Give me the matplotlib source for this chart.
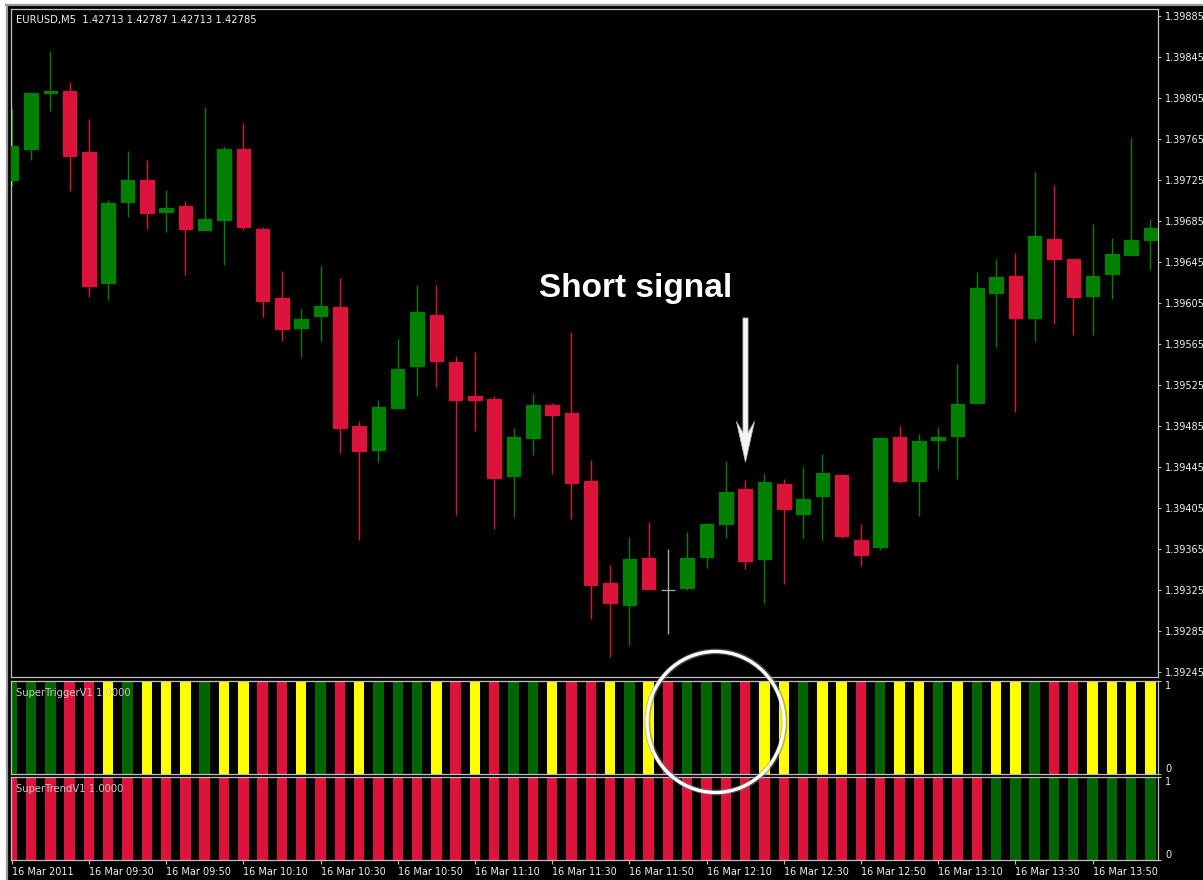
import matplotlib
matplotlib.use('Agg')
import matplotlib.pyplot as plt
from matplotlib.patches import Ellipse, Polygon, Rectangle
from matplotlib.lines import Line2D

# ---------------- data (EURUSD M5, 16 Mar 2011, 09:10 .. 14:05) ----------------
opens = [1.39725, 1.39755, 1.39810, 1.39812, 1.39752, 1.39624, 1.39703, 1.39725, 1.39694, 1.39700,
         1.39676, 1.39686, 1.39755, 1.39677, 1.39610, 1.39580, 1.39592, 1.39601, 1.39485, 1.39461,
         1.39502, 1.39543, 1.39593, 1.39547, 1.39514, 1.39511, 1.39436, 1.39473, 1.39505, 1.39497,
         1.39431, 1.39332, 1.39310, 1.39356, 1.39325, 1.39327, 1.39357, 1.39389, 1.39423, 1.39355,
         1.39428, 1.39399, 1.39416, 1.39437, 1.39374, 1.39367, 1.39474, 1.39431, 1.39471, 1.39475,
         1.39507, 1.39615, 1.39631, 1.39590, 1.39667, 1.39648, 1.39612, 1.39633, 1.39652, 1.39666]
highs = [1.39795, 1.39810, 1.39851, 1.39821, 1.39784, 1.39705, 1.39753, 1.39744, 1.39715, 1.39704,
         1.39796, 1.39758, 1.39781, 1.39679, 1.39636, 1.39599, 1.39641, 1.39629, 1.39490, 1.39510,
         1.39570, 1.39622, 1.39622, 1.39553, 1.39557, 1.39514, 1.39483, 1.39516, 1.39507, 1.39577,
         1.39452, 1.39349, 1.39376, 1.39391, 1.39365, 1.39381, 1.39390, 1.39451, 1.39432, 1.39438,
         1.39433, 1.39445, 1.39457, 1.39438, 1.39389, 1.39474, 1.39485, 1.39477, 1.39484, 1.39545,
         1.39635, 1.39648, 1.39654, 1.39733, 1.39720, 1.39648, 1.39682, 1.39668, 1.39766, 1.39687]
lows = [1.39719, 1.39744, 1.39792, 1.39714, 1.39611, 1.39608, 1.39689, 1.39677, 1.39674, 1.39632,
        1.39676, 1.39642, 1.39676, 1.39591, 1.39568, 1.39552, 1.39568, 1.39458, 1.39374, 1.39450,
        1.39502, 1.39514, 1.39523, 1.39398, 1.39480, 1.39384, 1.39396, 1.39456, 1.39438, 1.39394,
        1.39296, 1.39259, 1.39271, 1.39326, 1.39282, 1.39325, 1.39346, 1.39375, 1.39345, 1.39312,
        1.39331, 1.39375, 1.39374, 1.39375, 1.39348, 1.39364, 1.39429, 1.39397, 1.39443, 1.39433,
        1.39507, 1.39562, 1.39498, 1.39568, 1.39584, 1.39574, 1.39574, 1.39609, 1.39652, 1.39637]
closes = [1.39758, 1.39810, 1.39812, 1.39748, 1.39621, 1.39702, 1.39725, 1.39693, 1.39698, 1.39677,
          1.39687, 1.39755, 1.39679, 1.39607, 1.39579, 1.39589, 1.39602, 1.39483, 1.39460, 1.39503,
          1.39540, 1.39596, 1.39548, 1.39510, 1.39510, 1.39434, 1.39474, 1.39505, 1.39496, 1.39429,
          1.39330, 1.39312, 1.39355, 1.39326, 1.39325, 1.39356, 1.39389, 1.39420, 1.39353, 1.39430,
          1.39404, 1.39414, 1.39439, 1.39377, 1.39359, 1.39473, 1.39431, 1.39470, 1.39474, 1.39506,
          1.39619, 1.39630, 1.39590, 1.39670, 1.39648, 1.39611, 1.39631, 1.39653, 1.39666, 1.39678]

# SuperTriggerV1 state per bar: G = up, R = down, Y = neutral
trigger_states = list("GGGRRYGYYYGYYRRYGRYG"
                      "GGYRYRGGYRRYGYRGGGRY"
                      "YGYYRGYYGYGYYGRRYYYY")
# SuperTrendV1 state per bar
trend_states = list("R" * 51 + "G" * 9)

price_ticks = [1.39245, 1.39285, 1.39325, 1.39365, 1.39405, 1.39445, 1.39485, 1.39525,
               1.39565, 1.39605, 1.39645, 1.39685, 1.39725, 1.39765, 1.39805, 1.39845, 1.39885]
time_tick_bars = [0, 4, 8, 12, 16, 20, 24, 28, 32, 36, 40, 44, 48, 52, 56]
time_labels = ["16 Mar 2011", "16 Mar 09:30", "16 Mar 09:50", "16 Mar 10:10", "16 Mar 10:30",
               "16 Mar 10:50", "16 Mar 11:10", "16 Mar 11:30", "16 Mar 11:50", "16 Mar 12:10",
               "16 Mar 12:30", "16 Mar 12:50", "16 Mar 13:10", "16 Mar 13:30", "16 Mar 13:50"]

# ---------------- styling ----------------
UP = '#008000'
DOWN = '#DC143C'
DOJI = '#a8a8a8'
IND_COL = {'G': '#006400', 'R': '#DC143C', 'Y': '#FFFF00'}
SPINE = '#c0c0c0'
TXT = '#f0f0f0'

W, H = 1203, 880
fig = plt.figure(figsize=(W / 100, H / 100), dpi=100, facecolor='black')


def fx(px):
    return px / W


def fy(py):
    return 1 - py / H


left, right = 11, 1158
ax = fig.add_axes([fx(left), fy(677), fx(right - left), (677 - 9) / H])
ax_trig = fig.add_axes([fx(left), fy(773.5), fx(right - left), (773.5 - 680.5) / H])
ax_trend = fig.add_axes([fx(left), fy(859.5), fx(right - left), (859.5 - 777) / H])

xlim = (-0.036, 59.39)
n = len(opens)
xs = list(range(n))

# candles
body_w = 0.70
for i in xs:
    o, h, l, c = opens[i], highs[i], lows[i], closes[i]
    if c > o:
        col = UP
    elif c < o:
        col = DOWN
    else:
        col = DOJI
    ax.vlines(i, l, h, color=col, lw=1.0, zorder=2)
    bottom = min(o, c)
    height = abs(c - o)
    ax.bar(i, height, width=body_w, bottom=bottom, color=col, edgecolor=col,
           linewidth=0.9, zorder=3)

for a in (ax, ax_trig, ax_trend):
    a.set_facecolor('black')
    a.set_xlim(*xlim)
    for s in a.spines.values():
        s.set_color(SPINE)
        s.set_linewidth(0.9)
    a.yaxis.tick_right()
    a.tick_params(axis='y', colors=SPINE, labelcolor=TXT, length=2.5, width=0.8,
                  direction='out', labelsize=7, pad=2.5)
    a.tick_params(axis='x', bottom=False, labelbottom=False)

ax.set_ylim(1.392398, 1.398918)
ax.set_yticks(price_ticks)
ax.set_yticklabels([f"{p:.5f}" for p in price_ticks])

# indicator panels
ind_w = 0.54
ax_trig.bar(xs, [1] * n, width=ind_w, bottom=0,
            color=[IND_COL[s] for s in trigger_states], linewidth=0)
ax_trend.bar(xs, [1] * n, width=ind_w, bottom=0,
             color=[IND_COL[s] for s in trend_states], linewidth=0)
for a in (ax_trig, ax_trend):
    a.set_ylim(0, 1)
    a.set_yticks([0, 1])
    labs = a.set_yticklabels(["0", "1"])
    labs[0].set_va('bottom')
    labs[1].set_va('top')

ax_trend.set_xticks(time_tick_bars)
ax_trend.set_xticklabels(time_labels)
ax_trend.tick_params(axis='x', bottom=True, labelbottom=True, colors=SPINE,
                     labelcolor=TXT, length=3, width=0.8, direction='out',
                     labelsize=7, pad=2.5)
for lbl in ax_trend.get_xticklabels():
    lbl.set_ha('left')

# texts
fig.text(fx(16), fy(19.5), "EURUSD,M5  1.42713 1.42787 1.42713 1.42785",
         color=TXT, fontsize=7.2, va='center', ha='left')
fig.text(fx(16), fy(693), "SuperTriggerV1 1.0000", color='#c8c8c8', fontsize=7.2,
         va='center', ha='left', zorder=6)
fig.text(fx(16), fy(789), "SuperTrendV1 1.0000", color='#c8c8c8', fontsize=7.2,
         va='center', ha='left', zorder=6)
fig.text(fx(636), fy(297), "Short signal", color='white', fontsize=24,
         fontweight='bold', family=['Liberation Sans', 'DejaVu Sans'],
         ha='center', va='baseline', zorder=6)

# arrow (white, pointing down)
arrow_px = [(743, 318), (748, 318), (748, 433), (754.5, 421.5), (745.5, 462),
            (736.5, 421.5), (743, 433)]
fig.add_artist(Polygon([(fx(x), fy(y)) for x, y in arrow_px], closed=True,
                       facecolor='#f4f4f4', edgecolor='#bdbdbd', linewidth=0.6,
                       transform=fig.transFigure, zorder=6))

# circle highlight
fig.add_artist(Ellipse((fx(716), fy(722)), fx(137), 141 / H, fill=False,
                       edgecolor='#7a7a7a', linewidth=4.2, alpha=0.55,
                       transform=fig.transFigure, zorder=6))
fig.add_artist(Ellipse((fx(715.5), fy(722)), fx(137), 141 / H, fill=False,
                       edgecolor='white', linewidth=2.4,
                       transform=fig.transFigure, zorder=7))

# window frame (white margin + gray border at top/left)
fig.add_artist(Rectangle((0, fy(4.5)), 1, 4.5 / H, facecolor='white', edgecolor='none',
                         transform=fig.transFigure, zorder=8))
fig.add_artist(Rectangle((0, 0), fx(5.5), 1, facecolor='white', edgecolor='none',
                         transform=fig.transFigure, zorder=8))
fig.add_artist(Line2D([fx(5.5), 1], [fy(5.5), fy(5.5)], color='#9a9a9a', lw=1.6,
                      transform=fig.transFigure, zorder=8))
fig.add_artist(Line2D([fx(6.5), fx(6.5)], [0, fy(5.5)], color='#9a9a9a', lw=1.6,
                      transform=fig.transFigure, zorder=8))

fig.savefig('out.png', dpi=100, facecolor='black')
